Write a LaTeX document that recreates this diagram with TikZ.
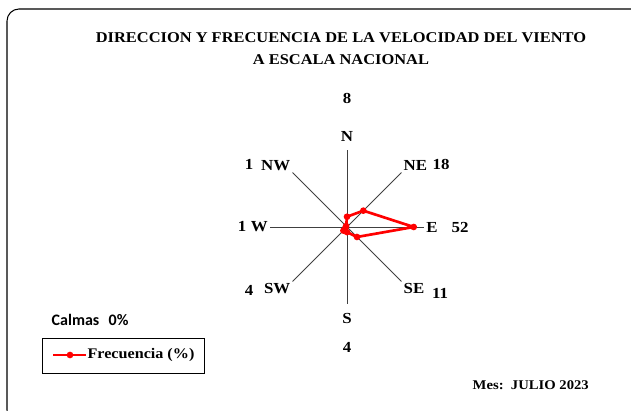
\documentclass[tikz,border=0pt]{standalone}
\usepackage{fontspec}
\setmainfont[FakeStretch=1.1]{Liberation Serif}
\newfontfamily\calibri{Carlito}
\usetikzlibrary{positioning,calc}

\newcommand*\roseradius{77}
\newcommand*\rosescale{1.2833} % 77/60, axis max is 60 %
\tikzset{
    dirlabel/.style={
        font=\bfseries\fontsize{11.5}{13}\selectfont,
        inner sep=1.5pt
    },
    vallabel/.style={
        font=\bfseries\fontsize{11.5}{13}\selectfont,
        inner sep=0pt
    },
    spoke/.style={draw=black!75, line width=0.7pt},
    freq/.style={draw=red, line width=2pt, line join=round},
    freqdot/.style={circle, fill=red, inner sep=0pt, minimum size=5pt}
}

\begin{document}
\begin{tikzpicture}[x=0.75pt,y=0.75pt]

    % Page frame, only the top left part shows.
    \useasboundingbox (0,0) rectangle (631,410);
    \begin{scope}
        \clip (0,0) rectangle (631,410);
        \draw[line width=0.8pt, rounded corners=9pt] (7,401) rectangle (645,-12);
    \end{scope}

    % Title.
    \node[font=\bfseries\fontsize{11.2}{16.5}\selectfont, align=center] (title) at (341,361)
        {DIRECCION Y FRECUENCIA DE LA VELOCIDAD DEL VIENTO\\A ESCALA NACIONAL};

    % Centre of the rose.
    \coordinate (c) at (347,183);

    % Draw the spokes and name their ends.
    \foreach \ang/\dir in {90/N,45/NE,0/E,-45/SE,-90/S,-135/SW,180/W,135/NW}{
        \coordinate (e\dir) at ($(c)+(\ang:\roseradius)$);
        \draw[spoke] (c) -- (e\dir);
    }

    % Direction labels.
    \node[dirlabel, above=5pt of eN] (N) {N};
    \node[dirlabel, anchor=south west] at (eNE) (NE) {NE};
    \node[dirlabel, right=0pt of eE] (E) {E};
    \node[dirlabel, anchor=north west] at (eSE) (SE) {SE};
    \node[dirlabel, below=5pt of eS] (S) {S};
    \node[dirlabel, anchor=north east] at (eSW) (SW) {SW};
    \node[dirlabel, left=0pt of eW] (W) {W};
    \node[dirlabel, anchor=south east] at (eNW) (NW) {NW};

    % Frequency values.
    \node[vallabel] (vN) at (347,312) {8};
    \node[vallabel] (vNE) at (441,246) {18};
    \node[vallabel] (vE) at (460,182) {52};
    \node[vallabel] (vSE) at (440,117) {11};
    \node[vallabel] (vS) at (347,63) {4};
    \node[vallabel] (vSW) at (249,120) {4};
    \node[vallabel] (vW) at (242,184) {1};
    \node[vallabel] (vNW) at (249,246) {1};

    % Frequency polygon.
    \foreach \ang/\val/\dir in {90/8/N,45/18/NE,0/52/E,-45/11/SE,-90/4/S,-135/4/SW,180/1/W,135/1/NW}
        \coordinate (f\dir) at ($(c)+(\ang:{\val*\rosescale})$);
    \draw[freq] (fN) -- (fNE) -- (fE) -- (fSE) -- (fS) -- (fSW) -- (fW) -- (fNW) -- cycle;
    \foreach \dir in {N,NE,E,SE,S,SW,W,NW}
        \node[freqdot] at (f\dir) {};

    % Calms.
    \node[font=\calibri\bfseries\fontsize{12}{14}\selectfont, anchor=west] (calmas) at (47,90) {Calmas\hspace{7pt}0\%};

    % Legend.
    \draw[line width=0.6pt] (42,72) rectangle (204,37);
    \coordinate (legA) at (53,55);
    \coordinate (legB) at (86,55);
    \draw[freq] (legA) -- (legB);
    \node[freqdot] (legdot) at (70,55) {};
    \node[font=\bfseries\fontsize{11}{13}\selectfont, anchor=west, inner sep=1pt] (legtext) at (legB) {Frecuencia (\%)};

    % Month.
    \node[font=\bfseries\fontsize{10}{12}\selectfont, anchor=west] (mes) at (468,25) {Mes:\ \ JULIO 2023};

\end{tikzpicture}
\end{document}
